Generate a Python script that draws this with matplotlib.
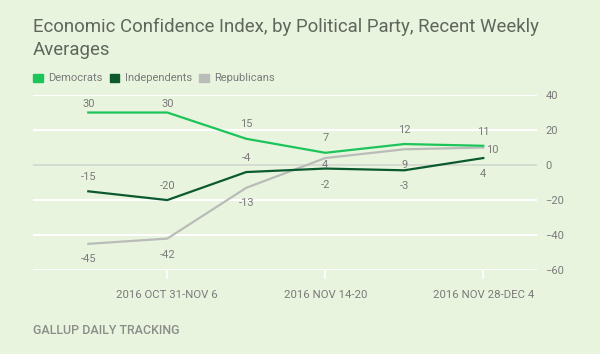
import matplotlib.pyplot as plt
import numpy as np

plt.rcParams['font.family'] = ['Roboto', 'DejaVu Sans']

weeks = ["W1", "2016 OCT 31-NOV 6", "W3", "2016 NOV 14-20", "W5", "2016 NOV 28-DEC 4"]
democrats = [30, 30, 15, 7, 12, 11]
independents = [-15, -20, -4, -2, -3, 4]
republicans = [-45, -42, -13, 4, 9, 10]

# label offsets from the point, in pixels (dx, dy; positive dy is up)
dem_off = [(0, 8.5), (0, 8.5), (0, 15), (0, 15), (0, 14), (0, 14)]
ind_off = [(0, 14.5), (0, 14), (0, 14), (0, -16.5), (0, -16), (0, -16)]
rep_off = [(0, -15), (0, -16.5), (0, -15), (0, -7), (0, -16), (9, -2.5)]

bg = "#e9f4de"
c_dem = "#1cc45a"
c_ind = "#0b5a2f"
c_rep = "#b9bcb8"
txt = "#7a7a7a"

fig = plt.figure(figsize=(6, 3.54), dpi=100, facecolor=bg)
ax = fig.add_axes([0.055, 0.237, 0.84, 0.4946])
ax.set_facecolor(bg)

x = np.arange(len(weeks))
ax.set_xlim(-0.7, 5.68)
ax.set_ylim(-60, 40)

for y in range(-60, 41, 20):
    if y == 0:
        ax.axhline(y, color="#d4d8d0", lw=1.2, zorder=1)
    else:
        ax.axhline(y, color="white", lw=1.5, zorder=1)

series = [(democrats, c_dem, dem_off), (independents, c_ind, ind_off), (republicans, c_rep, rep_off)]
for vals, col, off in series[::-1]:
    ax.plot(x, vals, color=col, lw=1.6, zorder=3)

px2pt = 72 / 100
for vals, col, off in series:
    for xi, v, (dx, dy) in zip(x, vals, off):
        ax.annotate(str(v), (xi, v), xytext=(dx * px2pt, dy * px2pt), textcoords="offset points",
                    ha="center", va="center", fontsize=8, color=txt, zorder=4)

for s in ax.spines.values():
    s.set_visible(False)

ax.yaxis.tick_right()
ax.set_yticks(range(-60, 41, 20))
ax.tick_params(axis="y", length=0, labelsize=8, labelcolor=txt, pad=6)
ax.set_xticks(x[1::2])
ax.set_xticklabels(weeks[1::2])
ax.tick_params(axis="x", length=6.5, width=1.2, color="white", labelsize=8.2,
               labelcolor=txt, pad=8, direction="out")

fig.text(0.055, 0.925, "Economic Confidence Index, by Political Party, Recent Weekly",
         fontsize=13.4, color="#5f665c", ha="left", va="center")
fig.text(0.055, 0.858, "Averages", fontsize=13.4, color="#5f665c", ha="left", va="center")

legend_items = [("Democrats", c_dem), ("Independents", c_ind), ("Republicans", c_rep)]
lx = 0.055
ly = 1 - 78 / 354
for name, col in legend_items:
    fig.patches.append(plt.Rectangle((lx, ly - 0.0127), 0.0165, 0.0254, color=col,
                                     transform=fig.transFigure, figure=fig))
    t = fig.text(lx + 0.025, ly, name, fontsize=8, color=txt, ha="left", va="center")
    fig.canvas.draw()
    bb = t.get_window_extent()
    lx = bb.x1 / fig.bbox.width + 0.012

fig.text(0.055, 1 - 331 / 354, "GALLUP DAILY TRACKING", fontsize=9, color="#8a8d88",
         ha="left", va="center", fontweight="medium")

fig.savefig("out.png", facecolor=bg)
